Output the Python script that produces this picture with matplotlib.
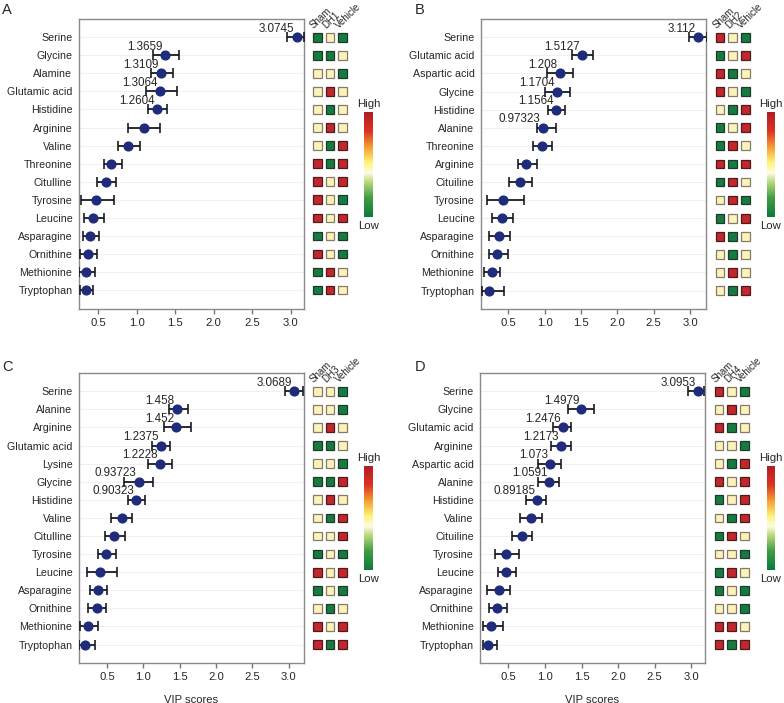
import matplotlib
matplotlib.use("Agg")
import matplotlib.pyplot as plt
from matplotlib.patches import Rectangle
from matplotlib.colors import LinearSegmentedColormap
import matplotlib.cm as cm

plt.rcParams['font.family'] = ['Liberation Sans', 'DejaVu Sans']

# ---------------- data ----------------
names_A = ["Serine", "Glycine", "Alamine", "Glutamic acid", "Histidine", "Arginine", "Valine",
           "Threonine", "Citulline", "Tyrosine", "Leucine", "Asparagine", "Ornithine",
           "Methionine", "Tryptophan"]
vip_A = [3.0745, 1.3659, 1.3109, 1.3064, 1.2604, 1.10, 0.89, 0.67, 0.60, 0.48, 0.43, 0.39, 0.37, 0.34, 0.34]
lo_A = [2.95, 1.21, 1.19, 1.12, 1.15, 0.89, 0.76, 0.58, 0.49, 0.28, 0.32, 0.30, 0.27, 0.25, 0.27]
hi_A = [3.17, 1.55, 1.47, 1.52, 1.40, 1.30, 1.05, 0.81, 0.73, 0.71, 0.58, 0.51, 0.49, 0.46, 0.44]
lab_A = ["3.0745", "1.3659", "1.3109", "1.3064", "1.2604"]
heat_A = ["GYG", "GGY", "YYG", "YRY", "YGY", "YRY", "YGR", "RGR", "RYR", "RYG", "RYR",
          "GYG", "RYG", "GRY", "GRY"]

names_B = ["Serine", "Glutamic acid", "Aspartic acid", "Glycine", "Histidine", "Alanine",
           "Threonine", "Arginine", "Cituiline", "Tyrosine", "Leucine", "Asparagine",
           "Ornithine", "Methionine", "Tryptophan"]
vip_B = [3.112, 1.5127, 1.208, 1.1704, 1.1564, 0.97323, 0.96, 0.75, 0.66, 0.43, 0.41, 0.37, 0.35, 0.27, 0.23]
lo_B = [2.99, 1.37, 1.03, 1.00, 1.04, 0.89, 0.84, 0.64, 0.51, 0.20, 0.28, 0.24, 0.23, 0.17, 0.14]
hi_B = [3.23, 1.66, 1.385, 1.35, 1.28, 1.15, 1.10, 0.89, 0.83, 0.72, 0.56, 0.52, 0.50, 0.385, 0.445]
lab_B = ["3.112", "1.5127", "1.208", "1.1704", "1.1564", "0.97323"]
heat_B = ["RYG", "GYR", "RGY", "RYG", "YGR", "GYR", "GRY", "RGR", "GRY", "YRG", "GYR",
          "RGY", "YGY", "YRY", "YGR"]

names_C = ["Serine", "Alanine", "Arginine", "Glutamic acid", "Lysine", "Glycine", "Histidine",
           "Valine", "Citulline", "Tyrosine", "Leucine", "Asparagine", "Ornithine",
           "Methionine", "Tryptophan"]
vip_C = [3.0689, 1.458, 1.452, 1.2375, 1.2228, 0.93723, 0.90323, 0.70, 0.60, 0.48, 0.40, 0.37, 0.36, 0.24, 0.20]
lo_C = [2.95, 1.35, 1.29, 1.12, 1.07, 0.74, 0.79, 0.56, 0.465, 0.37, 0.23, 0.26, 0.24, 0.13, 0.11]
hi_C = [3.19, 1.61, 1.65, 1.36, 1.40, 1.13, 1.02, 0.84, 0.745, 0.62, 0.64, 0.50, 0.49, 0.38, 0.33]
lab_C = ["3.0689", "1.458", "1.452", "1.2375", "1.2228", "0.93723", "0.90323"]
heat_C = ["YYG", "YYG", "YRY", "GGY", "YYG", "GGR", "YRY", "YGR", "YYR", "GYG", "RYR",
          "GYG", "YGY", "RYR", "RGR"]

names_D = ["Serine", "Glycine", "Glutamic acid", "Arginine", "Aspartic acid", "Alanine",
           "Histidine", "Valine", "Cituiline", "Tyrosine", "Leucine", "Asparagine",
           "Ornithine", "Methionine", "Tryptophan"]
vip_D = [3.0953, 1.4979, 1.2476, 1.2173, 1.073, 1.0591, 0.89185, 0.81, 0.68, 0.47, 0.47, 0.37, 0.34, 0.26, 0.22]
lo_D = [2.96, 1.31, 1.11, 1.08, 0.91, 0.91, 0.74, 0.66, 0.55, 0.31, 0.36, 0.20, 0.23, 0.15, 0.145]
hi_D = [3.18, 1.67, 1.36, 1.355, 1.22, 1.195, 1.02, 0.955, 0.82, 0.65, 0.60, 0.52, 0.48, 0.42, 0.34]
lab_D = ["3.0953", "1.4979", "1.2476", "1.2173", "1.073", "1.0591", "0.89185"]
heat_D = ["RYG", "YRY", "RGY", "YYG", "YGR", "RYR", "GYR", "YGR", "GRY", "YYG", "GRY",
          "GYG", "YYG", "RRY", "RGR"]

groups = ["Sham", "Vehicle"]
dh_names = ["DH1", "DH2", "DH3", "DH4"]
xticks = [0.5, 1.0, 1.5, 2.0, 2.5, 3.0]
# --------------------------------------

W, H = 784, 703
fig = plt.figure(figsize=(W / 100, H / 100), dpi=100)


def px(l, t, r, b):
    return [l / W, 1 - b / H, (r - l) / W, (b - t) / H]


cell_face = {"G": "#177a41", "Y": "#fbf3b9", "R": "#c1272d"}
cell_edge = {"G": "#1d3b28", "Y": "#857a66", "R": "#4e1a1a"}
cmap = LinearSegmentedColormap.from_list(
    "hl", [(0.0, "#0b7a3c"), (0.18, "#3f9c43"), (0.33, "#b7d77a"), (0.42, "#fdfbe2"),
           (0.52, "#fff27a"), (0.66, "#f4a234"), (0.82, "#dc3323"), (1.0, "#b01c26")])

TXT = "#262626"

panels = [
    ("A", names_A, vip_A, lo_A, hi_A, lab_A, heat_A, dh_names[0],
     (78.7, 19, 304, 308.5), (311, 19, 349, 308.5), (364, 112, 373, 217), (2, 14), (0.25, 3.17), False),
    ("B", names_B, vip_B, lo_B, hi_B, lab_B, heat_B, dh_names[1],
     (480.7, 19, 706, 309), (713.7, 19, 751.7, 309), (766.5, 112, 775, 217), (415, 14), (0.12, 3.22), False),
    ("C", names_C, vip_C, lo_C, hi_C, lab_C, heat_C, dh_names[2],
     (78.7, 373, 304, 663), (311, 373, 349, 663), (364, 466, 373, 570), (2, 371), (0.11, 3.21), True),
    ("D", names_D, vip_D, lo_D, hi_D, lab_D, heat_D, dh_names[3],
     (480, 373, 705, 663), (712.7, 373, 750.7, 663), (766.5, 466, 775, 570), (415, 371), (0.11, 3.19), True),
]

for (letter, names, vip, lo, hi, labs, heat, dh, mrect, hrect, crect, lpos, xlim, xlabel) in panels:
    n = len(names)
    rows = list(range(n))
    ax = fig.add_axes(px(*mrect))
    for r in rows:
        ax.axhline(r, color="#f1f1f1", lw=0.8, zorder=0)
    xerr = [[v - l for v, l in zip(vip, lo)], [h - v for v, h in zip(vip, hi)]]
    ax.errorbar(vip, rows, xerr=xerr, fmt="o", color="#1f2b7b", ms=6.3, ecolor="#1a1a24",
                elinewidth=1.3, capsize=3.5, capthick=1.2, zorder=3)
    for i, s in enumerate(labs):
        ax.annotate(s, (vip[i], rows[i]), xytext=(-1.5, 1.8), textcoords="offset points",
                    ha="right", va="bottom", fontsize=8.4, color=TXT)
    ax.set_ylim(n - 1 + 1.02, -1.01)
    ax.set_xlim(*xlim)
    ax.set_xticks(xticks)
    ax.set_xticklabels([f"{t:.1f}" for t in xticks])
    ax.set_yticks(rows)
    ax.set_yticklabels(names)
    ax.tick_params(axis="y", length=0, pad=4.5, labelsize=7.7, labelcolor=TXT)
    ax.tick_params(axis="x", length=3.5, width=1, color="#777777", labelsize=8.1,
                   labelcolor=TXT, pad=3)
    for sp in ax.spines.values():
        sp.set_color("#8a8a8a")
        sp.set_linewidth(1.0)
    if xlabel:
        ax.set_xlabel("VIP scores", fontsize=8.1, color=TXT, labelpad=9)

    # heat map of group levels
    hx = fig.add_axes(px(*hrect))
    hx.set_xlim(-0.5, 2.5)
    hx.set_ylim(n - 1 + 1.02, -1.01)
    hx.axis("off")
    for r, code in enumerate(heat):
        for c, ch in enumerate(code):
            hx.add_patch(Rectangle((c - 0.34, r - 0.24), 0.68, 0.48, facecolor=cell_face[ch],
                                   edgecolor=cell_edge[ch], lw=0.9))
    heads = [groups[0], dh, groups[1]]
    for c, h in enumerate(heads):
        hx.text(c - 0.2, -0.4, h, rotation=44, rotation_mode="anchor", ha="left",
                va="bottom", fontsize=7.0, color=TXT, clip_on=False)

    # colour key
    cx = fig.add_axes(px(*crect))
    sm = cm.ScalarMappable(cmap=cmap)
    sm.set_array([0, 1])
    cb = fig.colorbar(sm, cax=cx)
    cb.set_ticks([])
    cb.outline.set_visible(False)
    cx_mid = (crect[0] + crect[2]) / 2
    fig.text(cx_mid / W, 1 - (crect[1] - 8) / H, "High", ha="center", va="center",
             fontsize=8.2, color=TXT)
    fig.text(cx_mid / W, 1 - (crect[3] + 9) / H, "Low", ha="center", va="center",
             fontsize=8.2, color=TXT)

    fig.text(lpos[0] / W, 1 - lpos[1] / H, letter, ha="left", va="baseline",
             fontsize=10.5, color=TXT)

fig.savefig("out.png", dpi=100)
